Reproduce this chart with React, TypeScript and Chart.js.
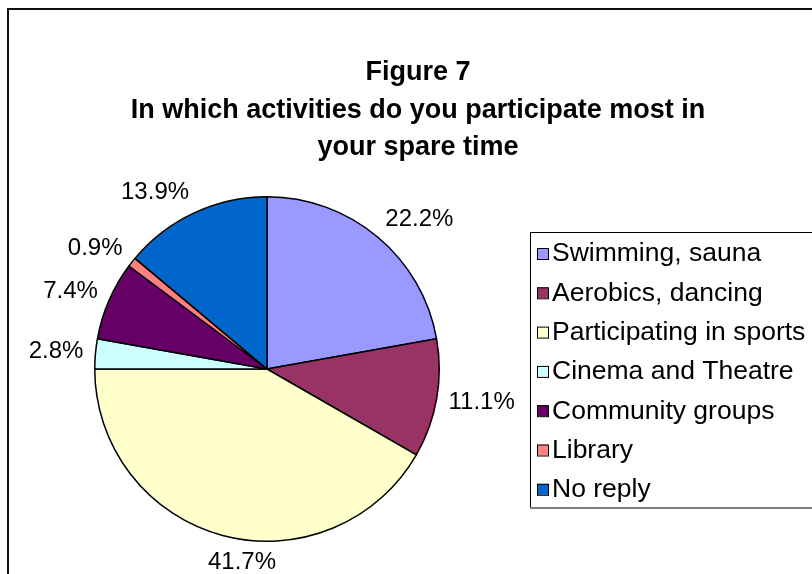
import { useEffect, useRef } from "react";
import { Chart, registerables } from "chart.js";

Chart.register(...registerables);

const TITLE_LINES = [
  "Figure 7",
  "In which activities do you participate most in",
  "your spare time",
];
const CATEGORIES = [
  "Swimming, sauna",
  "Aerobics, dancing",
  "Participating in sports",
  "Cinema and Theatre",
  "Community groups",
  "Library",
  "No reply",
];
const VALUES = [22.2, 11.1, 41.7, 2.8, 7.4, 0.9, 13.9];
const COLORS = ["#9999FF", "#993366", "#FFFFCC", "#CCFFFF", "#660066", "#FF8080", "#0066CC"];

const FONT = '"Liberation Sans", Arial, sans-serif';

const decorPlugin = {
  id: "decor",
  beforeDraw(chart: any) {
    const ctx = chart.ctx;
    ctx.save();
    ctx.fillStyle = "#ffffff";
    ctx.fillRect(0, 0, chart.width, chart.height);
    ctx.restore();
  },
  afterDraw(chart: any) {
    const ctx = chart.ctx;
    ctx.save();
    // outer frame
    ctx.strokeStyle = "#111111";
    ctx.lineWidth = 2;
    ctx.strokeRect(8, 9, 900, 700);

    // title
    ctx.fillStyle = "#000000";
    ctx.font = `bold 27px ${FONT}`;
    ctx.textAlign = "center";
    ctx.textBaseline = "middle";
    TITLE_LINES.forEach((t, i) => ctx.fillText(t, 418, 73 + i * 37.5));

    // data labels
    const meta = chart.getDatasetMeta(0);
    const data = chart.data.datasets[0].data as number[];
    const total = data.reduce((a, b) => a + b, 0);
    ctx.font = `24px ${FONT}`;
    meta.data.forEach((arc: any, i: number) => {
      const p = arc.getProps(["x", "y", "startAngle", "endAngle", "outerRadius"], true);
      const mid = (p.startAngle + p.endAngle) / 2;
      const s = Math.cos(mid);
      const c = -Math.sin(mid);
      const R = p.outerRadius + 12;
      const px = p.x + R * Math.cos(mid);
      const py = p.y + R * Math.sin(mid);
      const text = ((data[i] / total) * 100).toFixed(1) + "%";
      const w = ctx.measureText(text).width;
      const h = 22;
      const ox = Math.abs(s) < 0.3 ? w * 0.33 : s > 0 ? w / 2 : -w / 2;
      const oy = c < -0.9 ? 15 : (-h / 2) * c;
      ctx.fillText(text, px + ox, py + oy);
    });

    // legend
    const lx = 530, ly = 232, lw = 310, lh = 275;
    ctx.strokeStyle = "#000000";
    ctx.lineWidth = 1;
    ctx.strokeRect(lx + 0.5, ly + 0.5, lw, lh);
    ctx.strokeStyle = "#808080";
    ctx.lineWidth = 2;
    ctx.beginPath();
    ctx.moveTo(lx, ly + lh + 1);
    ctx.lineTo(lx + lw + 2, ly + lh + 1);
    ctx.stroke();

    const labels = chart.data.labels as string[];
    const colors = chart.data.datasets[0].backgroundColor as string[];
    ctx.textAlign = "left";
    ctx.font = `26.5px ${FONT}`;
    labels.forEach((lab, i) => {
      const cy = 253 + i * 39.3;
      ctx.fillStyle = colors[i];
      ctx.fillRect(537, cy - 5, 11, 11);
      ctx.strokeStyle = "#000000";
      ctx.lineWidth = 1;
      ctx.strokeRect(537.5, cy - 4.5, 11, 11);
      ctx.fillStyle = "#000000";
      ctx.fillText(lab, 552, cy + 1);
    });
    ctx.restore();
  },
};

export default function App() {
  const ref = useRef<HTMLCanvasElement | null>(null);
  useEffect(() => {
    if (!ref.current) return;
    const chart = new Chart(ref.current, {
      type: "pie",
      data: {
        labels: CATEGORIES,
        datasets: [
          {
            data: VALUES,
            backgroundColor: COLORS,
            borderColor: "#000000",
            borderWidth: 1.5,
          },
        ],
      },
      options: {
        responsive: false,
        animation: false,
        devicePixelRatio: 1,
        layout: { padding: { left: 94, right: 372, top: 196, bottom: 32 } },
        plugins: {
          legend: { display: false },
          title: { display: false },
          tooltip: { enabled: false },
        },
      },
      plugins: [decorPlugin],
    });
    return () => chart.destroy();
  }, []);
  return (
    <div style={{ position: "fixed", left: 0, top: 0, width: 812, height: 574 }}>
      <canvas ref={ref} width={812} height={574} style={{ width: 812, height: 574 }} />
    </div>
  );
}
